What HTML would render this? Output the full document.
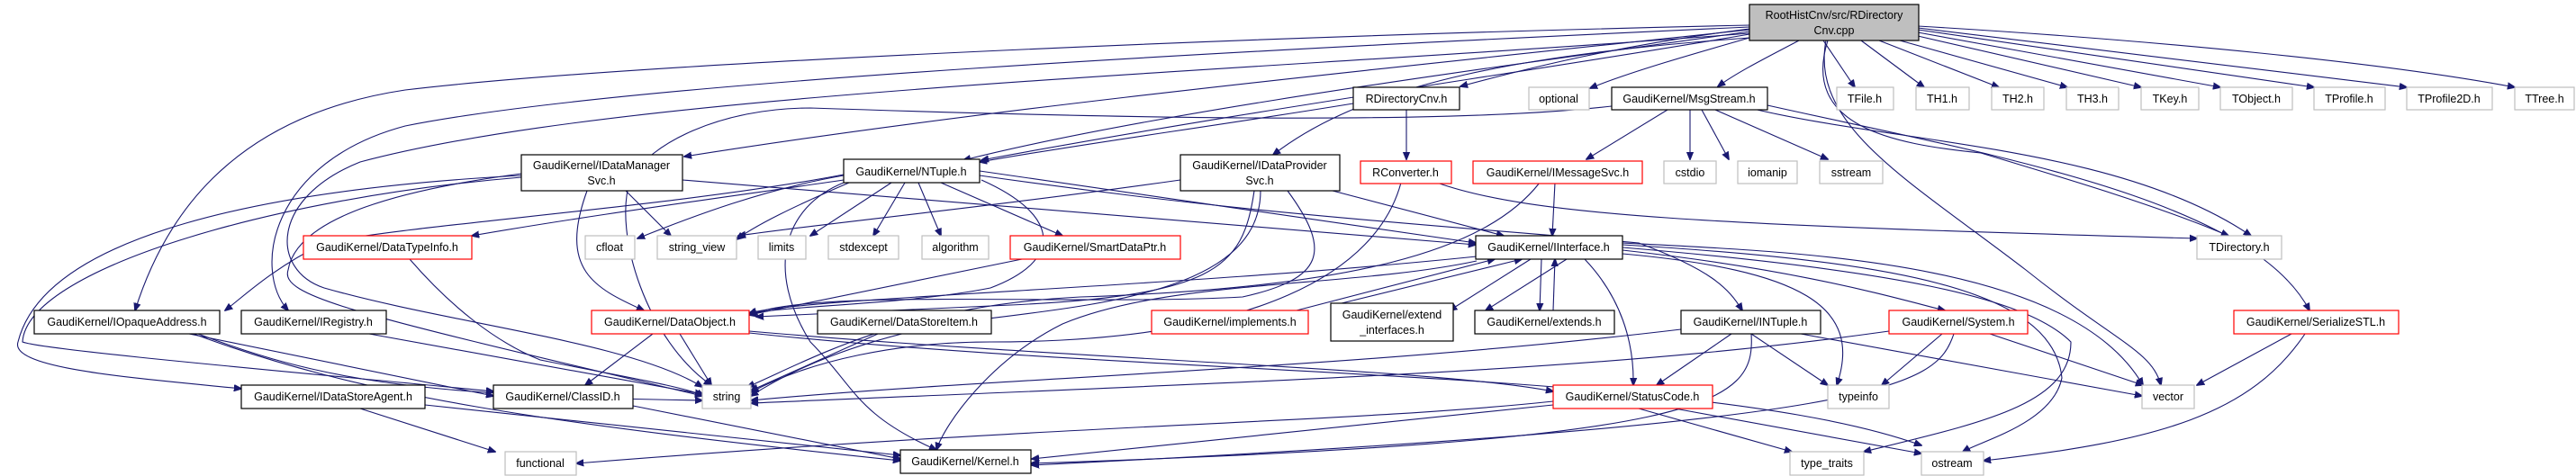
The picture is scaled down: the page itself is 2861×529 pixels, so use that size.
<!DOCTYPE html>
<html><head><meta charset="utf-8"><style>
html,body{margin:0;padding:0;background:#fff;}
svg{display:block}
text{font-family:"Liberation Sans",sans-serif;font-size:12.5px;fill:#000}
path{fill:none;stroke:#191970;stroke-width:1.1}
</style></head><body>
<svg width="2861" height="529" viewBox="0 0 2861 529" xmlns="http://www.w3.org/2000/svg">
<defs><marker id="a" viewBox="0 0 10 10" refX="9" refY="5" markerWidth="9" markerHeight="9" orient="auto" markerUnits="userSpaceOnUse"><path d="M0,1 L10,5 L0,9 Z" style="fill:#191970;stroke:#191970"/></marker></defs>
<g marker-end="url(#a)">
<!-- from cpp -->
<path d="M1943,32 C1800,50 1700,75 1622,96"/>
<path d="M1950,40 C1880,60 1810,80 1766,98"/>
<path d="M1998,45 C1960,65 1930,80 1908,96"/>
<path d="M2025,45 L2060,97"/>
<path d="M2067,45 L2137,97"/>
<path d="M2087,45 L2220,97"/>
<path d="M2110,45 L2296,97"/>
<path d="M2130,40 L2378,97"/>
<path d="M2130,36 L2466,97"/>
<path d="M2130,33 L2570,97"/>
<path d="M2130,31 L2673,97"/>
<path d="M2130,29 C2400,45 2650,70 2793,97"/>
<path d="M1943,35 C1700,70 1300,120 1070,178"/>
<path d="M1943,38 C1700,80 1400,120 1090,178"/>
<path d="M1943,42 C1700,60 1520,90 1414,172"/>
<path d="M1943,33 C1500,80 1100,120 760,174"/>
<path d="M1943,28 C1400,40 700,70 450,100 C250,130 180,250 150,345"/>
<path d="M1943,30 C1400,55 700,90 450,140 C300,180 280,300 320,345"/>
<path d="M1943,37 C1400,80 700,100 400,180 C300,220 300,300 360,320 C500,360 700,380 780,430"/>
<path d="M2030,45 C2000,140 2100,160 2200,170 C2300,200 2400,230 2475,262"/>
<path d="M2028,45 C2010,140 2120,200 2250,300 C2350,380 2390,390 2400,428"/>
<!-- MsgStream -->
<path d="M1852,122 L1762,177"/>
<path d="M1877,122 L1877,177"/>
<path d="M1890,122 L1920,177"/>
<path d="M1905,122 L2030,177"/>
<path d="M1935,118 C2100,160 2350,160 2500,262"/>
<path d="M1963,117 C2200,170 2500,220 2565,345"/>
<path d="M1790,118 C1600,140 1200,130 900,120 C800,120 720,160 700,200 C680,260 720,380 790,428"/>
<!-- RDirectoryCnv.h -->
<path d="M1562,122 L1562,177"/>
<path d="M1503,115 C1350,140 1200,160 1088,180"/>
<path d="M1596,203 C1700,240 1900,250 2440,265"/>
<path d="M1556,203 C1530,300 1400,380 1100,380 C1000,380 900,400 834,436"/>
<!-- IMessageSvc -->
<path d="M1710,203 C1650,280 1500,320 1200,330 C1000,340 900,400 830,430"/>
<path d="M1727,203 L1724,262"/>
<!-- IDataProviderSvc -->
<path d="M1311,200 C1100,230 900,250 820,262"/>
<path d="M1480,212 L1670,262"/>
<path d="M1393,212 C1380,300 1350,330 1100,340 L840,352"/>
<path d="M1400,212 C1400,330 1200,340 1050,360 C950,380 880,410 834,440"/>
<path d="M1430,212 C1480,280 1470,310 1380,330 C1200,340 900,320 833,350"/>
<!-- NTuple -->
<path d="M937,195 C850,210 770,240 708,265"/>
<path d="M950,200 C880,230 840,250 818,266"/>
<path d="M990,203 L900,262"/>
<path d="M1005,203 L970,262"/>
<path d="M1020,203 L1045,262"/>
<path d="M1045,203 L1180,262"/>
<path d="M1088,190 L1639,270"/>
<path d="M1088,195 C1400,240 1600,250 1820,270 C1900,300 1920,320 1935,345"/>
<path d="M937,200 C800,220 650,240 524,262"/>
<path d="M937,194 C750,230 450,250 360,270 C300,300 270,330 250,345"/>
<path d="M1090,200 C1180,240 1180,290 1100,320 C1000,340 850,340 832,350"/>
<path d="M937,203 C870,230 850,300 900,380 C950,430 950,460 1040,500"/>
<!-- IDataManagerSvc -->
<path d="M758,200 L1639,272"/>
<path d="M695,212 L745,262"/>
<path d="M652,212 C620,300 660,320 715,345"/>
<path d="M579,195 C300,210 50,260 20,380 C10,410 150,420 268,432"/>
<path d="M579,197 C300,220 30,300 25,380 C50,390 400,420 548,435"/>
<path d="M579,193 C450,210 330,240 320,300 C310,330 400,350 780,440"/>
<!-- DataTypeInfo -->
<path d="M455,288 C500,340 550,380 600,400 C700,420 760,430 782,440"/>
<!-- SmartDataPtr -->
<path d="M1135,288 L832,350"/>
<!-- IInterface -->
<path d="M1640,285 C1300,320 900,330 832,348"/>
<path d="M1740,288 L1650,345"/>
<path d="M1700,288 L1610,345"/>
<path d="M1712,288 L1710,345"/>
<path d="M1760,288 C1800,330 1815,380 1814,428"/>
<path d="M1802,278 C2000,300 2100,330 2160,345"/>
<path d="M1802,282 C2000,300 2070,340 2040,428"/>
<path d="M1802,275 C2100,300 2250,330 2300,380 C2300,450 2200,470 2070,502"/>
<path d="M1802,272 C2100,290 2280,320 2290,420 C2280,470 2200,490 2180,502"/>
<path d="M1802,270 C2000,280 2300,290 2380,428"/>
<path d="M1640,290 C1500,320 1300,310 1180,360 C1100,400 1050,470 1040,500"/>
<!-- reverse arrows to IInterface from implements/extend/extends -->
<path d="M1440,345 L1660,288"/>
<path d="M1490,337 L1690,288"/>
<path d="M1725,345 L1727,288"/>
<!-- IOpaqueAddress -->
<path d="M210,371 L548,440"/>
<path d="M220,371 C350,420 450,440 780,445"/>
<path d="M215,371 C400,440 600,470 1000,512"/>
<!-- IRegistry -->
<path d="M410,371 L780,438"/>
<!-- DataObject -->
<path d="M725,371 L650,428"/>
<path d="M755,371 L790,428"/>
<path d="M832,368 C1200,400 1600,410 1725,435"/>
<path d="M832,370 C1300,420 1900,410 2134,495"/>
<!-- DataStoreItem -->
<path d="M975,371 L834,434"/>
<!-- INTuple -->
<path d="M1923,371 L1840,428"/>
<path d="M1945,371 L2030,428"/>
<path d="M2000,371 L2379,440"/>
<path d="M1867,366 C1500,410 1100,420 834,445"/>
<path d="M1945,371 C1950,450 1900,490 1145,515"/>
<!-- System -->
<path d="M2157,371 L2090,428"/>
<path d="M2210,371 L2380,428"/>
<path d="M2098,368 C1800,410 1500,420 834,448"/>
<path d="M2170,371 C2150,430 2100,470 1146,517"/>
<!-- SerializeSTL -->
<path d="M2545,371 L2440,428"/>
<path d="M2560,371 C2500,460 2400,490 2203,512"/>
<!-- StatusCode -->
<path d="M1725,446 C1500,470 1200,470 640,515"/>
<path d="M1725,450 L1146,510"/>
<path d="M1820,454 L1990,502"/>
<path d="M1860,454 L2134,504"/>
<!-- ClassID -->
<path d="M703,451 L1000,510"/>
<!-- IDataStoreAgent -->
<path d="M400,454 L550,502"/>
<path d="M472,450 L1000,506"/>
</g>
<!-- nodes -->
<g stroke-width="1.2">
<rect x="1943" y="5" width="188" height="40" fill="#bfbfbf" stroke="#000"/>
<text x="2037" y="21" text-anchor="middle">RootHistCnv/src/RDirectory</text>
<text x="2037" y="38" text-anchor="middle">Cnv.cpp</text>

<g fill="#fff">
<rect x="1503" y="97" width="118" height="25" stroke="#000"/>
<rect x="1698" y="97" width="67" height="25" stroke="#bfbfbf"/>
<rect x="1790" y="97" width="173" height="25" stroke="#000"/>
<rect x="2040" y="97" width="63" height="25" stroke="#bfbfbf"/>
<rect x="2128" y="97" width="59" height="25" stroke="#bfbfbf"/>
<rect x="2212" y="97" width="58" height="25" stroke="#bfbfbf"/>
<rect x="2295" y="97" width="58" height="25" stroke="#bfbfbf"/>
<rect x="2378" y="97" width="64" height="25" stroke="#bfbfbf"/>
<rect x="2466" y="97" width="80" height="25" stroke="#bfbfbf"/>
<rect x="2570" y="97" width="79" height="25" stroke="#bfbfbf"/>
<rect x="2673" y="97" width="95" height="25" stroke="#bfbfbf"/>
<rect x="2793" y="97" width="66" height="25" stroke="#bfbfbf"/>

<rect x="579" y="172" width="179" height="40" stroke="#000"/>
<rect x="937" y="177" width="151" height="26" stroke="#000"/>
<rect x="1311" y="172" width="177" height="40" stroke="#000"/>
<rect x="1511" y="179" width="101" height="25" stroke="#f00"/>
<rect x="1636" y="179" width="188" height="25" stroke="#f00"/>
<rect x="1848" y="179" width="58" height="25" stroke="#bfbfbf"/>
<rect x="1930" y="179" width="66" height="25" stroke="#bfbfbf"/>
<rect x="2021" y="179" width="70" height="25" stroke="#bfbfbf"/>

<rect x="337" y="262" width="187" height="26" stroke="#f00"/>
<rect x="650" y="262" width="55" height="26" stroke="#bfbfbf"/>
<rect x="730" y="262" width="88" height="26" stroke="#bfbfbf"/>
<rect x="842" y="262" width="53" height="26" stroke="#bfbfbf"/>
<rect x="920" y="262" width="78" height="26" stroke="#bfbfbf"/>
<rect x="1024" y="262" width="74" height="26" stroke="#bfbfbf"/>
<rect x="1122" y="262" width="189" height="26" stroke="#f00"/>
<rect x="1639" y="262" width="163" height="26" stroke="#000"/>
<rect x="2440" y="262" width="94" height="26" stroke="#bfbfbf"/>

<rect x="38" y="345" width="206" height="26" stroke="#000"/>
<rect x="268" y="345" width="161" height="26" stroke="#000"/>
<rect x="657" y="345" width="175" height="26" stroke="#f00"/>
<rect x="908" y="345" width="193" height="26" stroke="#000"/>
<rect x="1279" y="345" width="174" height="26" stroke="#f00"/>
<rect x="1478" y="337" width="136" height="42" stroke="#000"/>
<rect x="1638" y="345" width="155" height="26" stroke="#000"/>
<rect x="1867" y="345" width="155" height="26" stroke="#000"/>
<rect x="2098" y="345" width="154" height="26" stroke="#f00"/>
<rect x="2481" y="345" width="183" height="26" stroke="#f00"/>

<rect x="268" y="428" width="204" height="26" stroke="#000"/>
<rect x="548" y="428" width="155" height="26" stroke="#000"/>
<rect x="780" y="428" width="54" height="26" stroke="#bfbfbf"/>
<rect x="1725" y="428" width="177" height="26" stroke="#f00"/>
<rect x="2030" y="428" width="68" height="26" stroke="#bfbfbf"/>
<rect x="2379" y="428" width="58" height="26" stroke="#bfbfbf"/>

<rect x="561" y="502" width="79" height="26" stroke="#bfbfbf"/>
<rect x="1000" y="500" width="145" height="26" stroke="#000"/>
<rect x="1988" y="502" width="82" height="26" stroke="#bfbfbf"/>
<rect x="2134" y="502" width="69" height="26" stroke="#bfbfbf"/>
</g>
</g>
<g text-anchor="middle">
<text x="1562" y="114">RDirectoryCnv.h</text>
<text x="1731" y="114">optional</text>
<text x="1876" y="114">GaudiKernel/MsgStream.h</text>
<text x="2071" y="114">TFile.h</text>
<text x="2157" y="114">TH1.h</text>
<text x="2241" y="114">TH2.h</text>
<text x="2324" y="114">TH3.h</text>
<text x="2410" y="114">TKey.h</text>
<text x="2506" y="114">TObject.h</text>
<text x="2609" y="114">TProfile.h</text>
<text x="2720" y="114">TProfile2D.h</text>
<text x="2826" y="114">TTree.h</text>

<text x="668" y="188">GaudiKernel/IDataManager</text>
<text x="668" y="205">Svc.h</text>
<text x="1012" y="195">GaudiKernel/NTuple.h</text>
<text x="1399" y="188">GaudiKernel/IDataProvider</text>
<text x="1399" y="205">Svc.h</text>
<text x="1561" y="196">RConverter.h</text>
<text x="1730" y="196">GaudiKernel/IMessageSvc.h</text>
<text x="1877" y="196">cstdio</text>
<text x="1963" y="196">iomanip</text>
<text x="2056" y="196">sstream</text>

<text x="430" y="279">GaudiKernel/DataTypeInfo.h</text>
<text x="677" y="279">cfloat</text>
<text x="774" y="279">string_view</text>
<text x="868" y="279">limits</text>
<text x="959" y="279">stdexcept</text>
<text x="1061" y="279">algorithm</text>
<text x="1216" y="279">GaudiKernel/SmartDataPtr.h</text>
<text x="1720" y="279">GaudiKernel/IInterface.h</text>
<text x="2487" y="279">TDirectory.h</text>

<text x="141" y="362">GaudiKernel/IOpaqueAddress.h</text>
<text x="348" y="362">GaudiKernel/IRegistry.h</text>
<text x="744" y="362">GaudiKernel/DataObject.h</text>
<text x="1004" y="362">GaudiKernel/DataStoreItem.h</text>
<text x="1366" y="362">GaudiKernel/implements.h</text>
<text x="1546" y="354">GaudiKernel/extend</text>
<text x="1546" y="371">_interfaces.h</text>
<text x="1715" y="362">GaudiKernel/extends.h</text>
<text x="1944" y="362">GaudiKernel/INTuple.h</text>
<text x="2175" y="362">GaudiKernel/System.h</text>
<text x="2572" y="362">GaudiKernel/SerializeSTL.h</text>

<text x="370" y="445">GaudiKernel/IDataStoreAgent.h</text>
<text x="625" y="445">GaudiKernel/ClassID.h</text>
<text x="807" y="445">string</text>
<text x="1813" y="445">GaudiKernel/StatusCode.h</text>
<text x="2064" y="445">typeinfo</text>
<text x="2408" y="445">vector</text>

<text x="600" y="519">functional</text>
<text x="1072" y="517">GaudiKernel/Kernel.h</text>
<text x="2029" y="519">type_traits</text>
<text x="2168" y="519">ostream</text>
</g>
</svg>
</body></html>
